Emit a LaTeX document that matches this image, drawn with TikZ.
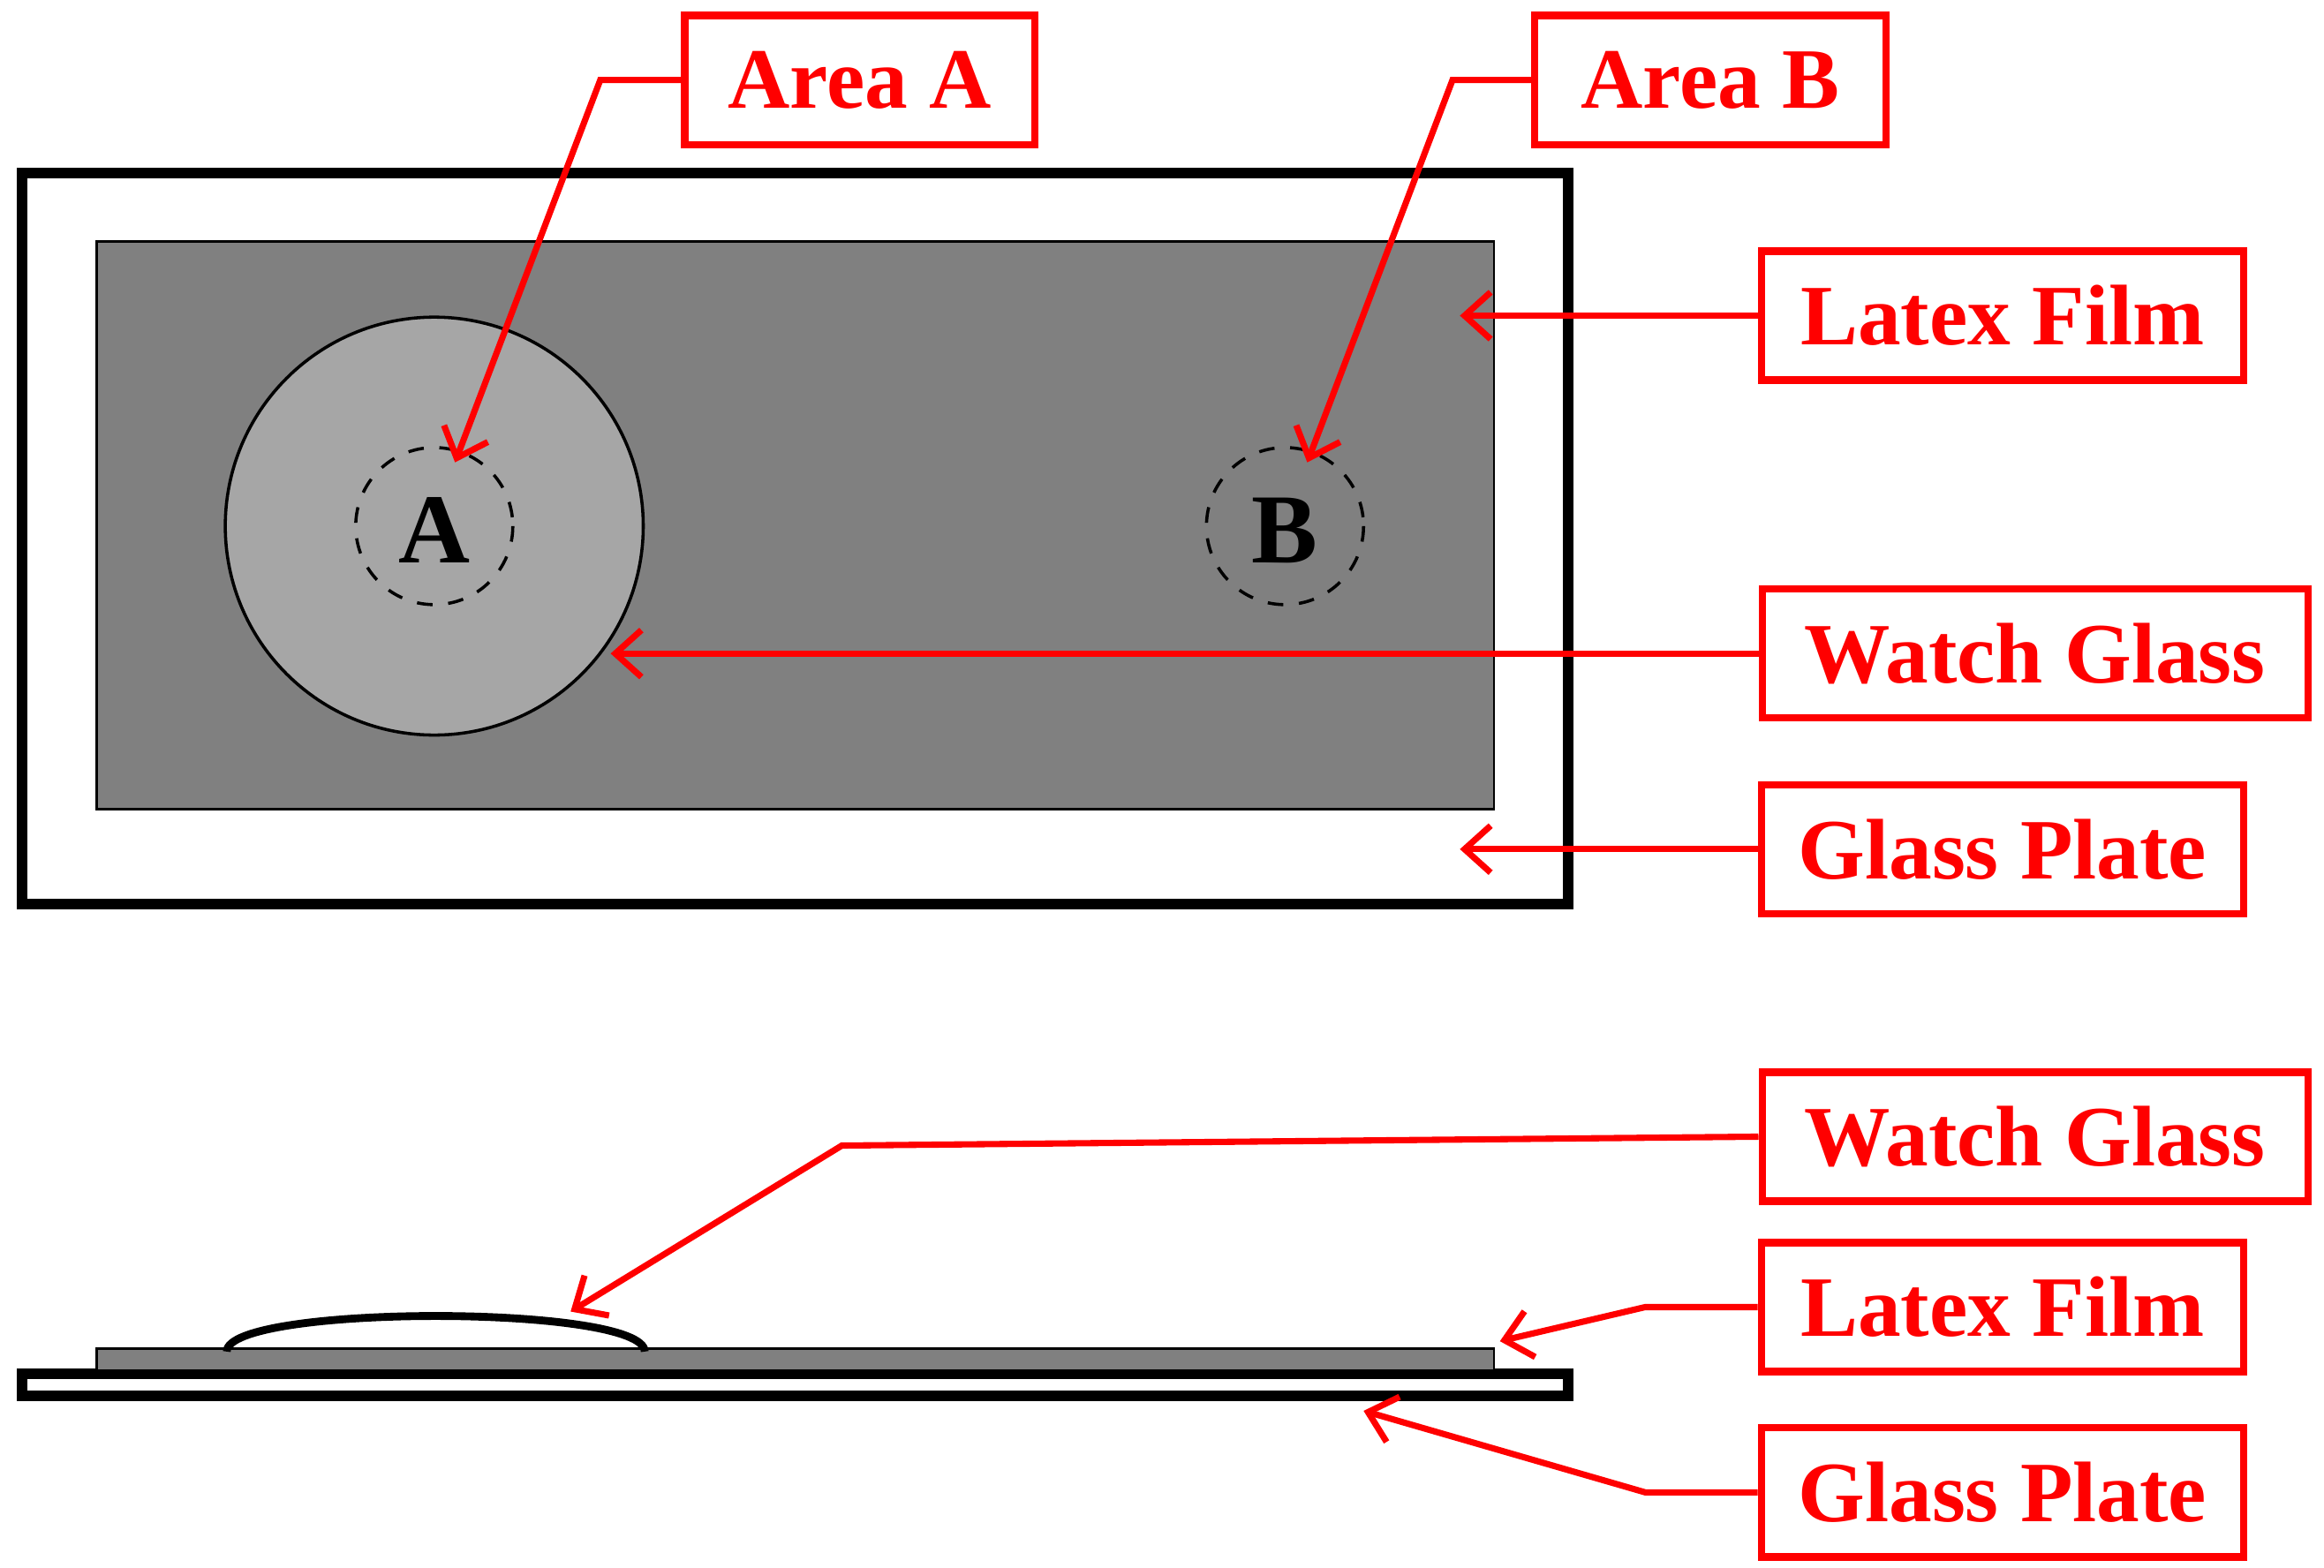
\documentclass[tikz,border=0pt]{standalone}
\usepackage{fontspec}
\setmainfont{Liberation Serif}
\usetikzlibrary{arrows.meta}
\begin{document}
\begin{tikzpicture}[x=0.01cm,y=-0.01cm,
  lbl/.style={draw=red,line width=1.4pt,text=red,font=\fontsize{16.5}{20}\selectfont\bfseries,minimum height=0.87cm,inner sep=0pt},
  arr/.style={red,line width=1.2pt,-{Straight Barb[length=5pt,width=9pt,line width=1.2pt]}},
  dcirc/.style={dashed,line width=0.6pt},
  letter/.style={font=\fontsize{19}{22}\selectfont\bfseries}]
\useasboundingbox (0,0) rectangle (1568,1058);
% top view
\draw[line width=2pt,fill=white] (15,117) rectangle (1058,610);
\draw[fill=black!50,line width=0.5pt] (65,163) rectangle (1008,546);
\draw[fill=black!35,line width=0.6pt] (293,355) circle (141);
\draw[dcirc] (293,355) circle (53);
\draw[dcirc] (867,355) circle (53);
\node[letter] (la) at (293,358) {A};
\node[letter] (lb) at (867,358) {B};
% side view
\draw[line width=2pt,fill=white] (15,927) rectangle (1058,942);
\draw[fill=black!50,line width=0.5pt] (65,910) rectangle (1008,925);
\draw[line width=1.5pt] (153,912) .. controls (153,880) and (435,880) .. (435,912);
% labels
\node[lbl,minimum width=2.36cm] (aa) at (580,54) {Area A};
\node[lbl,minimum width=2.37cm] (ab) at (1154,54) {Area B};
\node[lbl,minimum width=3.25cm] (lf1) at (1351,213) {Latex Film};
\node[lbl,minimum width=3.68cm] (wg1) at (1373,441) {Watch Glass};
\node[lbl,minimum width=3.25cm] (gp1) at (1351,573) {Glass Plate};
\node[lbl,minimum width=3.68cm] (wg2) at (1373,767) {Watch Glass};
\node[lbl,minimum width=3.25cm] (lf2) at (1351,882) {Latex Film};
\node[lbl,minimum width=3.25cm] (gp2) at (1351,1007) {Glass Plate};
\coordinate (ta) at (307,312);
\coordinate (tb) at (882,312);
\coordinate (tlf1) at (985,213);
\coordinate (twg1) at (412,441);
\coordinate (tgp1) at (985,573);
\coordinate (twg2) at (385,885);
\coordinate (tlf2) at (1012,905);
\coordinate (tgp2) at (920,952);
\draw[arr] (aa.west) -- (405,54) -- (ta);
\draw[arr] (ab.west) -- (980,54) -- (tb);
\draw[arr] (lf1.west) -- (tlf1);
\draw[arr] (wg1.west) -- (twg1);
\draw[arr] (gp1.west) -- (tgp1);
\draw[arr] (wg2.west) -- (568,773) -- (twg2);
\draw[arr] (lf2.west) -- (1110,882) -- (tlf2);
\draw[arr] (gp2.west) -- (1110,1007) -- (tgp2);
\end{tikzpicture}
\end{document}
